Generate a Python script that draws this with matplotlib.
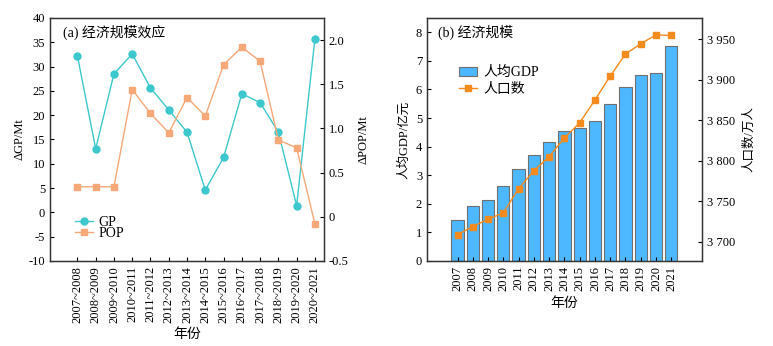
import matplotlib.pyplot as plt
import matplotlib.ticker as mticker
import numpy as np

plt.rcParams['font.family'] = ['Liberation Serif', 'Noto Sans CJK SC']
plt.rcParams['font.size'] = 9
plt.rcParams['axes.unicode_minus'] = False

# (a) year-on-year change
periods = ["2007~2008", "2008~2009", "2009~2010", "2010~2011", "2011~2012",
           "2012~2013", "2013~2014", "2014~2015", "2015~2016", "2016~2017",
           "2017~2018", "2018~2019", "2019~2020", "2020~2021"]
gp = [32.2, 13.1, 28.5, 32.6, 25.6, 21.1, 16.5, 4.6, 11.3, 24.4, 22.6, 16.5, 1.4, 35.7]
pop = [0.34, 0.34, 0.34, 1.44, 1.17, 0.95, 1.35, 1.14, 1.72, 1.92, 1.76, 0.87, 0.78, -0.08]

# (b) per-capita GDP and population
years = [str(y) for y in range(2007, 2022)]
gdp_pc = [1.43, 1.92, 2.13, 2.62, 3.22, 3.72, 4.16, 4.53, 4.64, 4.90, 5.48, 6.07, 6.51, 6.56, 7.51]
population = [3708.6, 3718.5, 3727.6, 3735.4, 3765.4, 3787.4, 3804.8, 3827.9, 3846.7,
              3874.7, 3904.3, 3931.5, 3944.1, 3955.2, 3954.4]

cyan = "#3cc8cc"
peach = "#f6a878"
blue = "#4db8ff"
orange = "#f58a1f"

fig = plt.figure(figsize=(7.73, 3.46), dpi=100)

# ---- left panel ----
ax1 = fig.add_axes([0.0647, 0.2457, 0.3545, 0.7023])
x = np.arange(len(periods))
ln1, = ax1.plot(x, gp, color=cyan, lw=1, marker="o", ms=5, label="GP")
ax1.set_ylim(-10, 40)
ax1.set_yticks(np.arange(-10, 41, 5))
ax1.set_xlim(-1.5, len(periods) - 0.5)
ax1.set_xticks(x)
ax1.set_xticklabels(periods, rotation=90)
ax1.set_ylabel("ΔGP/Mt", labelpad=2)
ax1.set_xlabel("年份", fontsize=10)
ax1.text(0.047, 0.94, "(a) 经济规模效应", transform=ax1.transAxes, va="center", fontsize=10)

ax1b = ax1.twinx()
ln2, = ax1b.plot(x, pop, color=peach, lw=1, marker="s", ms=4.5, label="POP")
ax1b.set_ylim(-0.5, 2.25)
ax1b.set_yticks(np.arange(-0.5, 2.01, 0.5))
ax1b.yaxis.set_major_formatter(mticker.FuncFormatter(
    lambda v, p: "0" if abs(v) < 1e-9 else f"{v:.1f}"))
ax1b.set_ylabel("ΔPOP/Mt", labelpad=6)
ax1.legend(handles=[ln1, ln2], loc="upper left", bbox_to_anchor=(0.065, 0.215),
           frameon=False, handlelength=1.3, handletextpad=0.4, labelspacing=-0.1,
           fontsize=10, borderpad=0)

# ---- right panel ----
ax2 = fig.add_axes([0.5524, 0.2457, 0.3555, 0.7023])
xb = np.arange(len(years))
bars = ax2.bar(xb, gdp_pc, width=0.8, color=blue, edgecolor="#707070", lw=0.8,
               label="人均GDP")
ax2.set_ylim(0, 8.5)
ax2.set_yticks(np.arange(0, 9, 1))
ax2.set_xlim(-2, len(years) + 1)
ax2.set_xticks(xb)
ax2.set_xticklabels(years, rotation=90)
ax2.set_ylabel("人均GDP/亿元", labelpad=4)
ax2.set_xlabel("年份", fontsize=10)
ax2.text(0.04, 0.94, "(b) 经济规模", transform=ax2.transAxes, va="center", fontsize=10)

ax2b = ax2.twinx()
ln3, = ax2b.plot(xb, population, color=orange, lw=1, marker="s", ms=4.5, label="人口数")
ax2b.set_ylim(3676, 3976)
ax2b.set_yticks(np.arange(3700, 3951, 50))
ax2b.yaxis.set_major_formatter(mticker.FuncFormatter(
    lambda v, p: f"{int(v) // 1000} {int(v) % 1000:03d}"))
ax2b.set_ylabel("人口数/万人", labelpad=6)
ax2.legend(handles=[bars, ln3], loc="upper left", bbox_to_anchor=(0.09, 0.83),
           frameon=False, handlelength=1.3, handletextpad=0.5, labelspacing=0.25,
           fontsize=10, borderpad=0)

for a in (ax1, ax1b, ax2, ax2b):
    a.tick_params(direction="in", length=3, width=0.8)
    for s in a.spines.values():
        s.set_linewidth(0.9)
        s.set_color("#333333")

fig.savefig("out.png", dpi=100)
